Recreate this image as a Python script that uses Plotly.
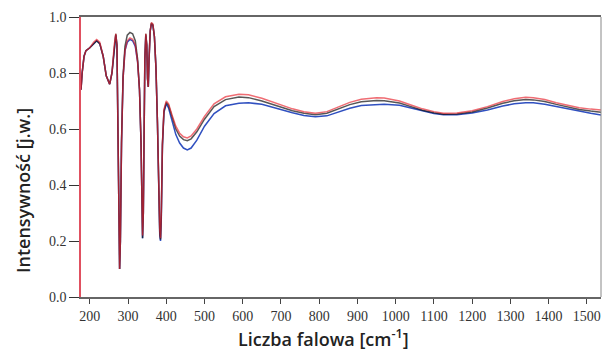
import plotly.graph_objects as go

wavenumber = [177, 180, 185, 190, 200, 210, 218, 226, 235, 243, 252, 258, 264, 268, 271, 274, 276, 278, 280, 283, 287, 292, 298, 305, 312, 319, 325, 330, 334, 336, 338, 340, 342, 344, 346.5, 349, 351, 353, 355, 358, 361, 365, 369, 373, 377, 380, 383, 385, 387, 390, 394, 400, 406, 415, 425, 435, 445, 455, 465, 480, 500, 525, 555, 590, 615, 650, 690, 730, 760, 790, 820, 850, 880, 910, 950, 970, 1010, 1040, 1070, 1100, 1125, 1160, 1200, 1240, 1280, 1310, 1340, 1360, 1390, 1420, 1450, 1480, 1510, 1537]

red_vals = [0.74, 0.80, 0.86, 0.88, 0.89, 0.91, 0.92, 0.91, 0.86, 0.79, 0.76, 0.80, 0.90, 0.94, 0.90, 0.60, 0.25, 0.10, 0.20, 0.55, 0.78, 0.88, 0.915, 0.925, 0.92, 0.90, 0.84, 0.74, 0.55, 0.35, 0.22, 0.30, 0.60, 0.85, 0.94, 0.90, 0.78, 0.75, 0.85, 0.95, 0.98, 0.975, 0.93, 0.82, 0.62, 0.40, 0.24, 0.21, 0.30, 0.55, 0.67, 0.70, 0.69, 0.65, 0.61, 0.585, 0.572, 0.568, 0.575, 0.60, 0.645, 0.69, 0.715, 0.724, 0.722, 0.71, 0.69, 0.672, 0.662, 0.656, 0.662, 0.678, 0.695, 0.706, 0.712, 0.711, 0.70, 0.686, 0.672, 0.662, 0.656, 0.657, 0.665, 0.68, 0.698, 0.708, 0.713, 0.712, 0.705, 0.694, 0.684, 0.676, 0.671, 0.668]

blue_vals = [0.74, 0.80, 0.86, 0.88, 0.89, 0.905, 0.915, 0.905, 0.86, 0.79, 0.76, 0.80, 0.90, 0.935, 0.90, 0.60, 0.25, 0.10, 0.20, 0.55, 0.78, 0.88, 0.91, 0.92, 0.915, 0.895, 0.84, 0.74, 0.55, 0.35, 0.21, 0.30, 0.60, 0.85, 0.935, 0.90, 0.78, 0.75, 0.85, 0.95, 0.975, 0.97, 0.93, 0.82, 0.62, 0.40, 0.22, 0.20, 0.28, 0.54, 0.66, 0.69, 0.675, 0.63, 0.58, 0.55, 0.532, 0.525, 0.532, 0.56, 0.61, 0.655, 0.683, 0.692, 0.694, 0.688, 0.672, 0.658, 0.648, 0.644, 0.647, 0.66, 0.674, 0.684, 0.688, 0.688, 0.685, 0.675, 0.664, 0.655, 0.651, 0.651, 0.657, 0.668, 0.682, 0.69, 0.694, 0.694, 0.688, 0.68, 0.671, 0.662, 0.656, 0.65]

black_vals = [0.74, 0.80, 0.86, 0.88, 0.89, 0.905, 0.915, 0.905, 0.86, 0.79, 0.76, 0.80, 0.90, 0.94, 0.90, 0.60, 0.25, 0.10, 0.20, 0.56, 0.79, 0.895, 0.935, 0.945, 0.94, 0.915, 0.85, 0.74, 0.55, 0.35, 0.21, 0.30, 0.60, 0.85, 0.94, 0.90, 0.78, 0.75, 0.85, 0.95, 0.978, 0.973, 0.93, 0.82, 0.62, 0.40, 0.23, 0.205, 0.29, 0.545, 0.665, 0.695, 0.685, 0.645, 0.60, 0.575, 0.562, 0.558, 0.565, 0.59, 0.635, 0.68, 0.705, 0.714, 0.712, 0.70, 0.682, 0.665, 0.656, 0.651, 0.656, 0.671, 0.687, 0.697, 0.702, 0.701, 0.693, 0.68, 0.667, 0.658, 0.653, 0.654, 0.661, 0.675, 0.692, 0.701, 0.705, 0.704, 0.698, 0.688, 0.678, 0.670, 0.664, 0.66]

x_ticks = [200, 300, 400, 500, 600, 700, 800, 900, 1000, 1100, 1200, 1300, 1400, 1500]
y_ticks = [0.0, 0.2, 0.4, 0.6, 0.8, 1.0]
y_tick_text = ["0.0", "0.2", "0.4", "0.6", "0.8", "1.0"]

x_title = "Liczba falowa [cm<sup>-1</sup>]"
y_title = "Intensywność [j.w.]"

serif = "'Liberation Serif', 'DejaVu Serif', serif"
sans = "Open Sans, Noto Sans, sans-serif"

fig = go.Figure()
fig.add_trace(go.Scatter(x=wavenumber, y=blue_vals, mode="lines",
                         line=dict(color="#3050c0", width=1.5), showlegend=False))
fig.add_trace(go.Scatter(x=wavenumber, y=black_vals, mode="lines",
                         line=dict(color="#111111", width=1.5), opacity=0.7, showlegend=False))
fig.add_trace(go.Scatter(x=wavenumber, y=red_vals, mode="lines",
                         line=dict(color="#e8202a", width=1.5), opacity=0.65, showlegend=False))

fig.update_layout(
    width=602, height=350,
    margin=dict(l=81, r=1, t=17, b=53),
    paper_bgcolor="white", plot_bgcolor="white",
    font=dict(family=serif),
    xaxis=dict(
        range=[177, 1537], tickvals=x_ticks, ticks="outside", ticklen=5,
        tickcolor="#444", showline=True, linecolor="#666", linewidth=1.5,
        mirror=True, showgrid=False, zeroline=False,
        tickfont=dict(family=serif, size=14, color="#333"),
    ),
    yaxis=dict(
        range=[0, 1.0], tickvals=y_ticks, ticktext=y_tick_text, ticks="outside",
        ticklen=10, tickcolor="#333", showline=True, linecolor="#e05060",
        linewidth=1.5, showgrid=False, zeroline=False,
        tickfont=dict(family=serif, size=14, color="#333"),
    ),
    annotations=[
        dict(text=x_title, xref="paper", yref="paper", x=(323 - 81) / 520, y=(297 - 338) / 280,
             xanchor="center", yanchor="middle", showarrow=False,
             font=dict(family=sans, size=18, color="#222", weight=600)),
        dict(text=y_title, xref="paper", yref="paper", x=(23 - 81) / 520, y=(297 - 191) / 280,
             xanchor="center", yanchor="middle", showarrow=False, textangle=-90,
             font=dict(family=sans, size=18, color="#222", weight=600)),
    ],
)
fig.add_shape(type="line", xref="paper", yref="paper", x0=1, x1=1, y0=0, y1=1,
              line=dict(color="#888", width=1))

fig.write_html("out.html")
